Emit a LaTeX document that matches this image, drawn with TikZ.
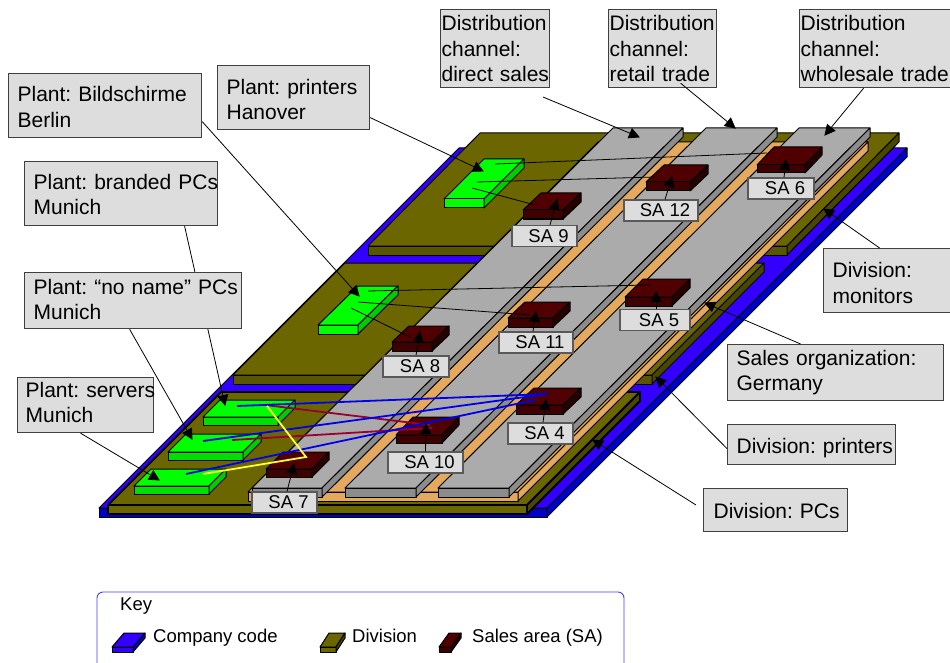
\documentclass[tikz,border=0pt]{standalone}
\usepackage{fontspec}
\setmainfont{Liberation Sans}
\usetikzlibrary{arrows.meta}
\definecolor{cblue}{HTML}{3300FF}
\definecolor{cblued}{HTML}{0000CC}
\definecolor{colive}{HTML}{6B6600}
\definecolor{colived}{HTML}{5A5500}
\definecolor{colivee}{HTML}{4A4600}
\definecolor{corange}{HTML}{E5A95E}
\definecolor{cgray}{HTML}{ABABAB}
\definecolor{cgrayd}{HTML}{8C8C8C}
\definecolor{cmar}{HTML}{500000}
\definecolor{cmard}{HTML}{3E0000}
\definecolor{cmare}{HTML}{260000}
\definecolor{cgreen}{HTML}{00FF00}
\definecolor{cgreend}{HTML}{00E000}
\definecolor{cgreene}{HTML}{00CC00}
\definecolor{clab}{HTML}{DDDDDD}
\definecolor{cred}{HTML}{990033}
\definecolor{cyell}{HTML}{FFFF33}
\definecolor{cline}{HTML}{0000EE}
\tikzset{
  face/.style={draw=black,line width=1pt,line join=round},
  lab/.style={draw=black!75,line width=1.2pt,fill=clab,anchor=north west,inner xsep=0pt,inner ysep=0pt,align=left,font=\fontsize{21}{25.5}\selectfont},
  salab/.style={draw=black!65,line width=1.2pt,fill=clab,anchor=center,inner sep=0pt,font=\fontsize{18.5}{22}\selectfont},
  conn/.style={draw=black,line width=0.8pt},
  arr/.style={conn,-{Triangle[length=11pt,width=11pt]},shorten >=-1pt},
  tie/.style={draw=black,line width=0.8pt},
  bluetie/.style={draw=cline,line width=1.8pt},
  redtie/.style={draw=cred,line width=1.8pt},
  yelltie/.style={draw=cyell,line width=1.8pt,line join=miter},
  keytext/.style={anchor=base west,inner sep=0pt,font=\fontsize{18.5}{22}\selectfont},
}
% slab: x y (front-left top) w dx dy h top front side
\newcommand{\slab}[9]{%
  \fill[#7,face] (#1,#2) -- ({#1+#3},#2) -- ({#1+#3+#4},{#2-#5}) -- ({#1+#4},{#2-#5}) -- cycle;
  \fill[#8,face] (#1,#2) -- ({#1+#3},#2) -- ({#1+#3},{#2+#6}) -- (#1,{#2+#6}) -- cycle;
  \fill[#9,face] ({#1+#3},#2) -- ({#1+#3+#4},{#2-#5}) -- ({#1+#3+#4},{#2-#5+#6}) -- ({#1+#3},{#2+#6}) -- cycle;
}
% [downward text shift] name x0 y0 x1 y1 inset text
\newcommand{\boxlab}[8][0]{%
  \pgfmathsetlengthmacro{\bw}{(#5-#3)*1pt}%
  \pgfmathsetlengthmacro{\bh}{(#6-#4)*1pt}%
  \node[lab,minimum width=\bw,minimum height=\bh,text width=\bw] (#2) at (#3,#4) {\hspace*{#7pt}\raisebox{\dimexpr-#1pt-5.25pt\relax}[0pt][0pt]{\parbox{\dimexpr\bw-#7pt\relax}{\raggedright #8}}};
}
\newcommand{\salabel}[5]{\node[salab,minimum width={(#4-#2)*1pt},minimum height=21pt] (#1) at ({(#2+#4)/2},#3) {\hspace*{8pt}#5};}
\begin{document}
\frenchspacing
\begin{tikzpicture}[x=1pt,y=-1pt]
\useasboundingbox (0,0) rectangle (950,663);
% company code
\slab{99}{508}{448}{360}{360}{9}{cblue}{cblued}{cblued}
% divisions
\slab{368}{246}{419}{112}{113}{9}{colive}{colived}{colivee}
\slab{233}{375}{419}{112}{112}{9}{colive}{colived}{colivee}
\begin{scope}[face/.append style={line width=1.8pt}]
\slab{108}{505}{419}{113}{113}{9}{colive}{colive}{colivee}
\end{scope}
% sales organization
\slab{248}{492}{270}{350}{350}{9}{corange}{corange}{corange}
% distribution channels
\slab{438}{488}{71}{361}{360}{9}{cgray}{cgrayd}{cgrayd}
\slab{345}{488}{71}{361}{360}{9}{cgray}{cgrayd}{cgrayd}
\slab{252}{488}{70}{361}{360}{9}{cgray}{cgrayd}{cgrayd}
% plants
\slab{444}{199}{40}{40}{40}{9}{cgreen}{cgreen}{cgreene}
\slab{318}{325}{40}{40}{39}{9}{cgreen}{cgreen}{cgreene}
\slab{203}{417}{75}{17}{17}{8}{cgreen}{cgreend}{cgreene}
\slab{168}{452}{75}{18}{18}{8}{cgreen}{cgreend}{cgreene}
\slab{134}{486}{75}{17}{17}{8}{cgreen}{cgreend}{cgreene}
% sales areas
\slab{757}{165}{48}{17}{18}{8}{cmar}{cmard}{cmare}
\slab{646}{182}{44}{18}{17}{9}{cmar}{cmard}{cmare}
\slab{523}{210}{40}{18}{17}{9}{cmar}{cmard}{cmare}
\slab{625}{297}{47}{18}{18}{9}{cmar}{cmard}{cmare}
\slab{508}{318}{45}{17}{16}{9}{cmar}{cmard}{cmare}
\slab{392}{342}{40}{17}{16}{9}{cmar}{cmard}{cmare}
\slab{516}{405}{47}{18}{17}{9}{cmar}{cmard}{cmare}
\slab{396}{435}{46}{17}{18}{8}{cmar}{cmard}{cmare}
\slab{266}{469}{46}{17}{17}{8}{cmar}{cmard}{cmare}
% anchor points on the plants and sales areas
\coordinate (pH1) at (495,164);\coordinate (pH2) at (477,182);\coordinate (pH3) at (472,188);
\coordinate (s6) at (767,153);\coordinate (s12) at (655,177);\coordinate (s9) at (535,205);
\coordinate (pB1) at (368,291);\coordinate (pB2) at (358,302);\coordinate (pB3) at (351,308);
\coordinate (s5) at (650,285);\coordinate (s11) at (530,315);\coordinate (s8) at (410,337);
\coordinate (pPa) at (237,406);\coordinate (pPb) at (203,441);\coordinate (pPc) at (186,474);
\coordinate (s4a) at (547,394);\coordinate (s4b) at (535,400);
\coordinate (pRa) at (265,405);\coordinate (pRb) at (232,440);\coordinate (s10a) at (430,425);\coordinate (s10b) at (432,428);
\coordinate (yA) at (267,406);\coordinate (s7y) at (306,457);\coordinate (yB) at (203,474);
% plant to sales-area links
\draw[tie] (pH1) -- (s6); \draw[tie] (pH2) -- (s12); \draw[tie] (pH3) -- (s9);
\draw[tie] (pB1) -- (s5); \draw[tie] (pB2) -- (s11); \draw[tie] (pB3) -- (s8);
\draw[redtie] (pRa) -- (s10a); \draw[redtie] (pRb) -- (s10b);
\draw[bluetie] (pPa) -- (s4a); \draw[bluetie] (pPb) -- (s4a); \draw[bluetie] (pPc) -- (s4b);
\draw[yelltie] (yA) -- (s7y) -- (yB);
% labels
\boxlab[2]{lHan}{217}{65}{369}{129}{9}{\mbox{Plant: printers}\\\mbox{Hanover}}
\boxlab[1.5]{lBer}{8}{73}{201}{137}{9}{\mbox{Plant: Bildschirme}\\\mbox{Berlin}}
\coordinate (tHan) at (483,171);
\coordinate (tBer) at (359,296);
\coordinate (tBra) at (225,405);
\coordinate (tNon) at (192,439);
\coordinate (tSrv) at (159,480);
\boxlab[1]{lBra}{24}{161}{217}{225}{9}{\mbox{Plant: branded PCs}\\\mbox{Munich}}
\draw[arr] ([xshift=63.5pt]lBra.south) -- (tBra);
\boxlab[-1]{lNon}{24}{272}{241}{328}{9}{\mbox{Plant: “no name” PCs}\\\mbox{Munich}}
\boxlab[-2.5]{lSrv}{17}{377}{153}{432}{8}{\mbox{Plant: servers}\\\mbox{Munich}}
\draw[arr] ([xshift=-3.5pt]lNon.south) -- (tNon);
\draw[arr] ([xshift=-5pt]lSrv.south) -- (tSrv);
\draw[arr] ([yshift=-20pt]lHan.east) -- (tHan);
\draw[arr] ([yshift=-16pt]lBer.east) -- (tBer);
\boxlab{lDir}{440}{9}{549}{87}{1}{\mbox{Distribution}\\\mbox{channel:}\\\mbox{direct sales}}
\boxlab{lRet}{608}{9}{716}{87}{1}{\mbox{Distribution}\\\mbox{channel:}\\\mbox{retail trade}}
\boxlab{lWho}{799}{9}{950}{87}{1}{\mbox{Distribution}\\\mbox{channel:}\\\mbox{wholesale trade}}
\coordinate (tDir) at (639,137);\coordinate (tRet) at (735,128);\coordinate (tWho) at (825,135);
\coordinate (sDir) at (543,97);
\draw[arr] (sDir) -- (tDir);
\draw[arr] ([xshift=18pt,yshift=5pt]lRet.south) -- (tRet);
\draw[arr] ([xshift=-11.5pt]lWho.south) -- (tWho);
\boxlab[2.5]{lMon}{823}{248}{952}{312}{9}{\mbox{Division:}\\\mbox{monitors}}
\boxlab{lOrg}{727}{344}{943}{400}{9}{\mbox{Sales organization:}\\\mbox{Germany}}
\boxlab[3]{lPri}{727}{424}{895}{464}{9}{\mbox{Division: printers}}
\boxlab[1]{lPCs}{703}{488}{847}{531}{10}{\mbox{Division: PCs}}
\coordinate (tMon) at (824,209);\coordinate (tOrg) at (705,303);\coordinate (tPri) at (656,377);\coordinate (tPCs) at (593,440);
\coordinate (sPCs) at (696,505);
\draw[arr] ([xshift=-8.5pt]lMon.north) -- (tMon);
\draw[arr] ([xshift=-35pt]lOrg.north) -- (tOrg);
\draw[arr] ([yshift=-4pt]lPri.west) -- (tPri);
\draw[arr] (sPCs) -- (tPCs);
% sales-area labels
\salabel{l6}{748}{188.5}{814}{SA 6}
\salabel{l12}{624}{210.5}{698}{SA 12}
\salabel{l9}{512}{236}{577}{SA 9}
\salabel{l5}{620}{320}{690}{SA 5}
\salabel{l11}{499}{342.5}{573}{SA 11}
\salabel{l8}{383}{366.5}{449}{SA 8}
\salabel{l4}{508}{433.5}{573}{SA 4}
\salabel{l10}{388}{462.5}{463}{SA 10}
\salabel{l7}{252}{502.5}{317}{SA 7}
\coordinate (a6) at (786,160);\coordinate (a12) at (672,177);\coordinate (a9) at (557,200);
\coordinate (a5) at (656,292);\coordinate (a11) at (536,312);\coordinate (a8) at (420,332);
\coordinate (a4) at (546,400);\coordinate (a10) at (426,424);\coordinate (a7) at (294,464);
\draw[arr] ([xshift=3pt]l6.north) -- (a6);
\draw[arr] ([xshift=4pt]l12.north) -- (a12);
\draw[arr] ([xshift=5.5pt]l9.north) -- (a9);
\draw[arr] ([xshift=1pt]l5.north) -- (a5);
\draw[arr] ([xshift=-3pt]l11.north) -- (a11);
\draw[arr] (l8.north) -- (a8);
\draw[arr] ([xshift=2.5pt]l4.north) -- (a4);
\draw[arr] (l10.north) -- (a10);
\draw[arr] ([xshift=2.5pt]l7.north) -- (a7);
% key
\draw[draw=blue!75!white,line width=0.9pt,rounded corners=6pt] (97,665) -- (97,592) -- (624,592) -- (624,665);
\node[keytext] (kKey) at (120,610) {Key};
\slab{112}{647}{21}{12}{14}{5}{cblue}{cblue}{cblued}
\slab{320}{647}{16}{9}{14}{5}{colive}{colive}{colivee}
\slab{439}{647}{12}{10}{14}{5}{cmar}{cmard}{cmare}
\node[keytext] (kCC) at (153,642) {Company code};
\node[keytext] (kDi) at (352,642) {Division};
\node[keytext] (kSA) at (472,642) {Sales area (SA)};
\end{tikzpicture}
\end{document}
